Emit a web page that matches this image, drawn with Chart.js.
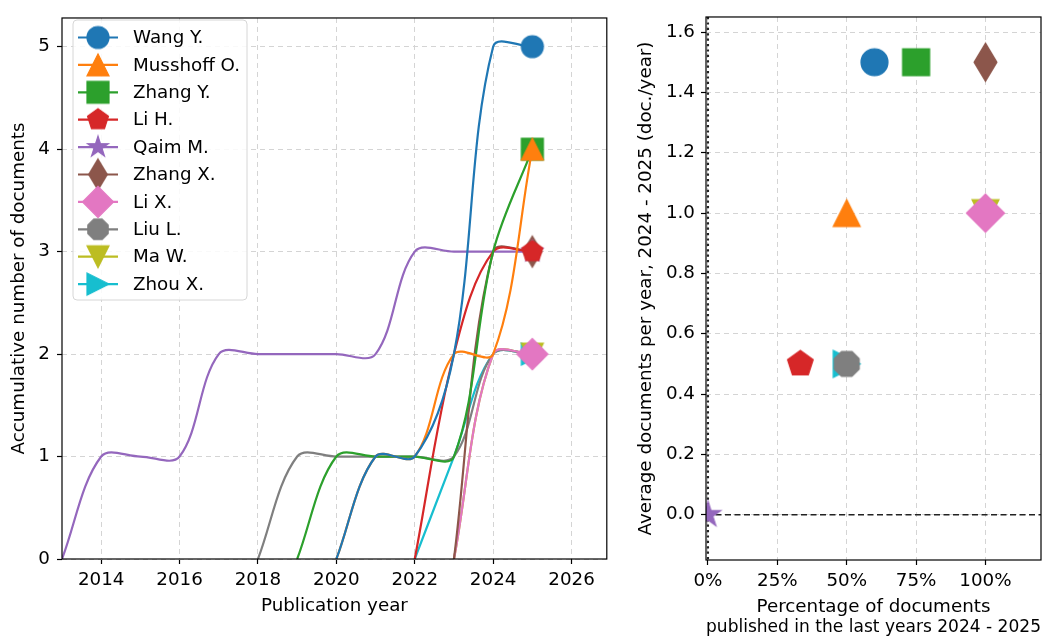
<!DOCTYPE html>
<html><head><meta charset="utf-8">
<script src="https://cdn.jsdelivr.net/npm/chart.js@4/dist/chart.umd.min.js"></script>
<style>
html,body{margin:0;padding:0;background:#fff;}
#wrap{position:relative;width:1056px;height:637px;overflow:hidden;background:#fff;}
#c1{position:absolute;left:0;top:0;}
#c2{position:absolute;left:620px;top:0;}
</style></head><body>
<div id="wrap"><canvas id="c1" width="620" height="637"></canvas><canvas id="c2" width="436" height="637"></canvas></div>
<script>
// ---------- data ----------
const authors = ['Wang Y.', 'Musshoff O.', 'Zhang Y.', 'Li H.', 'Qaim M.', 'Zhang X.', 'Li X.', 'Liu L.', 'Ma W.', 'Zhou X.'];
const colors = ['#1f77b4', '#ff7f0e', '#2ca02c', '#d62728', '#9467bd', '#8c564b', '#e377c2', '#7f7f7f', '#bcbd22', '#17becf'];
const markerShapes = ['circle', 'triUp', 'square', 'pentagon', 'star', 'thinDiamond', 'diamond', 'octagon', 'triDown', 'triRight'];

const years = [2013, 2014, 2015, 2016, 2017, 2018, 2019, 2020, 2021, 2022, 2023, 2024, 2025];
const cumWang     = [null, null, null, null, null, null, null, 0, 1, 1, 2, 5, 5];
const cumMusshoff = [null, null, null, null, null, null, null, 0, 1, 1, 2, 2, 4];
const cumZhangY   = [null, null, null, null, null, null, 0, 1, 1, 1, 1, 3, 4];
const cumLiH      = [null, null, null, null, null, null, null, null, null, 0, 2, 3, 3];
const cumQaim     = [0, 1, 1, 1, 2, 2, 2, 2, 2, 3, 3, 3, 3];
const cumZhangX   = [null, null, null, null, null, null, null, null, null, null, 0, 3, 3];
const cumLiX      = [null, null, null, null, null, null, null, null, null, null, 0, 2, 2];
const cumLiuL     = [null, null, null, null, null, 0, 1, 1, 1, 1, 1, 2, 2];
const cumMaW      = [null, null, null, null, null, null, null, null, null, null, 0, 2, 2];
const cumZhouX    = [null, null, null, null, null, null, null, null, null, 0, 1, 2, 2];
const cumSeries = [cumWang, cumMusshoff, cumZhangY, cumLiH, cumQaim, cumZhangX, cumLiX, cumLiuL, cumMaW, cumZhouX];

const pctRecent  = [0.6, 0.5, 0.75, 0.333, 0.0, 1.0, 1.0, 0.5, 1.0, 0.5];
const avgPerYear = [1.5, 1.0, 1.5, 0.5, 0.0, 1.5, 1.0, 0.5, 1.0, 0.5];

const yearTicks = [2014, 2016, 2018, 2020, 2022, 2024, 2026];
const countTicks = [0, 1, 2, 3, 4, 5];
const pctTicks = [0, 0.25, 0.5, 0.75, 1.0];
const rateTicks = [0, 0.2, 0.4, 0.6, 0.8, 1.0, 1.2, 1.4, 1.6];

// ---------- styling ----------
const FONT = 'DejaVu Sans';
const FS = 18.3;
Chart.defaults.font.family = FONT;
Chart.defaults.font.size = FS;
Chart.defaults.color = '#000';

function makeMarker(shape, color, s) {
  const ext = (shape === 'diamond' || shape === 'thinDiamond') ? s * 1.414 : s;
  const w = Math.ceil(ext + 4), h = Math.ceil(ext + 4);
  const cv = document.createElement('canvas');
  cv.width = w; cv.height = h;
  const c = cv.getContext('2d');
  c.translate(w / 2, h / 2);
  c.beginPath();
  const R = s / 2;
  const poly = (n, r, start) => {
    for (let i = 0; i < n; i++) {
      const a = start + i * 2 * Math.PI / n;
      const px = r * Math.cos(a), py = r * Math.sin(a);
      if (i === 0) c.moveTo(px, py); else c.lineTo(px, py);
    }
    c.closePath();
  };
  switch (shape) {
    case 'circle': c.arc(0, 0, R, 0, Math.PI * 2); break;
    case 'triUp': c.moveTo(0, -R); c.lineTo(R, R); c.lineTo(-R, R); c.closePath(); break;
    case 'triDown': c.moveTo(0, R); c.lineTo(R, -R); c.lineTo(-R, -R); c.closePath(); break;
    case 'triRight': c.moveTo(R, 0); c.lineTo(-R, R); c.lineTo(-R, -R); c.closePath(); break;
    case 'square': c.rect(-R, -R, s, s); break;
    case 'pentagon': poly(5, R, -Math.PI / 2); break;
    case 'octagon': poly(8, R, -Math.PI / 2 + Math.PI / 8); break;
    case 'star': {
      const r2 = R * 0.381966;
      for (let i = 0; i < 10; i++) {
        const a = -Math.PI / 2 + i * Math.PI / 5;
        const rr = i % 2 === 0 ? R : r2;
        const px = rr * Math.cos(a), py = rr * Math.sin(a);
        if (i === 0) c.moveTo(px, py); else c.lineTo(px, py);
      }
      c.closePath(); break;
    }
    case 'diamond': { const d = s * 0.7071; c.moveTo(0, -d); c.lineTo(d, 0); c.lineTo(0, d); c.lineTo(-d, 0); c.closePath(); break; }
    case 'thinDiamond': { const d = s * 0.7071, dw = d * 0.6; c.moveTo(0, -d); c.lineTo(dw, 0); c.lineTo(0, d); c.lineTo(-dw, 0); c.closePath(); break; }
  }
  c.fillStyle = color; c.fill();
  c.lineWidth = 1.2; c.strokeStyle = color; c.stroke();
  return cv;
}

const leftMarkers = authors.map((a, i) => makeMarker(markerShapes[i], colors[i], 22));
const rightMarkers = authors.map((a, i) => makeMarker(markerShapes[i], colors[i], 27));

const frame = {
  id: 'frame',
  afterDraw(chart) {
    const {ctx, chartArea: a} = chart;
    ctx.save();
    ctx.strokeStyle = '#000'; ctx.lineWidth = 1.2;
    ctx.strokeRect(a.left, a.top, a.right - a.left, a.bottom - a.top);
    ctx.restore();
  }
};

const legendPlugin = {
  id: 'mplLegend',
  afterDraw(chart) {
    const ctx = chart.ctx;
    ctx.save();
    const bx = 73, by = 20, bw = 174, bh = 280, r = 4;
    ctx.beginPath();
    ctx.roundRect(bx, by, bw, bh, r);
    ctx.fillStyle = 'rgba(255,255,255,0.85)';
    ctx.fill();
    ctx.strokeStyle = '#d6d6d6'; ctx.lineWidth = 1;
    ctx.stroke();
    ctx.font = FS + 'px "' + FONT + '"';
    ctx.textBaseline = 'middle';
    ctx.textAlign = 'left';
    authors.forEach((name, i) => {
      const y = 37.5 + i * 27.4;
      ctx.strokeStyle = colors[i]; ctx.lineWidth = 2.2;
      ctx.beginPath(); ctx.moveTo(78, y); ctx.lineTo(118, y); ctx.stroke();
      const m = leftMarkers[i];
      ctx.drawImage(m, 98 - m.width / 2, y - m.height / 2);
      ctx.fillStyle = '#000';
      ctx.fillText(name, 133, y + 1);
    });
    ctx.restore();
  }
};

const refLines = {
  id: 'refLines',
  beforeDatasetsDraw(chart) {
    const {ctx, chartArea: a, scales} = chart;
    const y0 = scales.y.getPixelForValue(0);
    const x0 = scales.x.getPixelForValue(0);
    ctx.save();
    ctx.strokeStyle = '#222';
    ctx.lineWidth = 1.6;
    ctx.setLineDash([6, 3.5]);
    ctx.beginPath(); ctx.moveTo(a.left, y0); ctx.lineTo(a.right, y0); ctx.stroke();
    ctx.lineWidth = 2.2;
    ctx.setLineDash([2.2, 3.2]);
    ctx.beginPath(); ctx.moveTo(x0, a.top); ctx.lineTo(x0, a.bottom); ctx.stroke();
    ctx.restore();
  }
};

function gridOpts() {
  return { color: '#d4d4d4', lineWidth: 1, tickLength: 5, tickColor: '#000', tickWidth: 1.2, tickBorderDash: [] };
}
const titleFont = { size: FS, lineHeight: 1.1 };

// ---------- left chart ----------
const leftDatasets = authors.map((name, i) => {
  const pts = [];
  years.forEach((yr, k) => { if (cumSeries[i][k] !== null) pts.push({x: yr, y: cumSeries[i][k]}); });
  const last = pts.length - 1;
  return {
    label: name,
    data: pts,
    showLine: true,
    borderColor: colors[i],
    backgroundColor: colors[i],
    borderWidth: 2.2,
    tension: 0.35,
    pointStyle: leftMarkers[i],
    pointRadius: (ctx) => ctx.dataIndex === last ? 11 : 0,
    pointHoverRadius: 0,
    clip: 0
  };
});

new Chart(document.getElementById('c1'), {
  type: 'scatter',
  data: { datasets: leftDatasets },
  options: {
    responsive: false, animation: false, devicePixelRatio: 1, events: [],
    layout: { padding: { left: 0, top: 12, right: 1, bottom: 0 } },
    plugins: { legend: { display: false }, tooltip: { enabled: false } },
    scales: {
      x: {
        type: 'linear', min: 2013, max: 2026.9,
        afterBuildTicks: s => { s.ticks = yearTicks.map(v => ({value: v})); },
        afterFit: s => { s.height = 78; },
        ticks: { callback: v => String(v), padding: 5, maxRotation: 0, autoSkip: false, color: '#000' },
        grid: gridOpts(),
        border: { display: false, dash: [5, 4] },
        title: { display: true, text: 'Publication year', color: '#000', font: titleFont, padding: { top: 0, bottom: 21 } }
      },
      y: {
        type: 'linear', min: 0, max: 5.28,
        afterBuildTicks: s => { s.ticks = countTicks.map(v => ({value: v})); },
        afterFit: s => { s.width = 62; },
        ticks: { callback: v => String(v), padding: 7, autoSkip: false, color: '#000' },
        grid: gridOpts(),
        border: { display: false, dash: [5, 4] },
        title: { display: true, text: 'Accumulative number of documents', color: '#000', font: titleFont, padding: { top: 9, bottom: 0 } }
      }
    }
  },
  plugins: [frame, legendPlugin]
});

// ---------- right chart ----------
const rightDatasets = authors.map((name, i) => ({
  label: name,
  data: [{x: pctRecent[i], y: avgPerYear[i]}],
  pointStyle: rightMarkers[i],
  pointRadius: 13.5,
  pointHoverRadius: 13.5,
  backgroundColor: colors[i],
  borderColor: colors[i],
  clip: 0
}));

new Chart(document.getElementById('c2'), {
  type: 'scatter',
  data: { datasets: rightDatasets },
  options: {
    responsive: false, animation: false, devicePixelRatio: 1, events: [],
    layout: { padding: { left: 0, top: 12, right: 15, bottom: 0 } },
    plugins: { legend: { display: false }, tooltip: { enabled: false } },
    scales: {
      x: {
        type: 'linear', min: -0.007, max: 1.2,
        afterBuildTicks: s => { s.ticks = pctTicks.map(v => ({value: v})); },
        afterFit: s => { s.height = 77; },
        ticks: { callback: v => Math.round(v * 100) + '%', padding: 5, maxRotation: 0, autoSkip: false, color: '#000' },
        grid: gridOpts(),
        border: { display: false, dash: [5, 4] },
        title: { display: true, text: ['Percentage of documents', 'published in the last years 2024 - 2025'], color: '#000', font: titleFont, padding: { top: 0, bottom: 0 } }
      },
      y: {
        type: 'linear', min: -0.15, max: 1.65,
        afterBuildTicks: s => { s.ticks = rateTicks.map(v => ({value: v})); },
        afterFit: s => { s.width = 86; },
        ticks: { callback: v => Number(v).toFixed(1), padding: 6, autoSkip: false, color: '#000' },
        grid: gridOpts(),
        border: { display: false, dash: [5, 4] },
        title: { display: true, text: 'Average documents per year, 2024 - 2025 (doc./year)', color: '#000', font: titleFont, padding: { top: 16, bottom: 0 } }
      }
    }
  },
  plugins: [refLines, frame]
});
</script>
</body></html>
